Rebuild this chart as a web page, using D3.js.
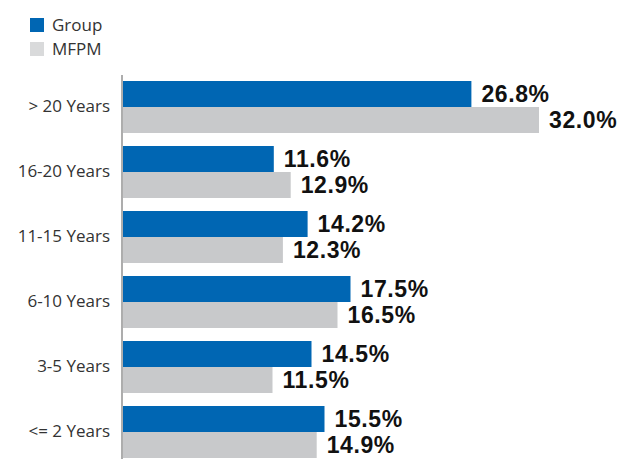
<!DOCTYPE html>
<html><head><meta charset="utf-8">
<script src="https://cdn.jsdelivr.net/npm/d3@7"></script>
<style>body{margin:0;background:#fff}svg{display:block}</style>
</head><body><svg id="c" width="624" height="459"></svg>
<script>
const categories = ["> 20 Years","16-20 Years","11-15 Years","6-10 Years","3-5 Years","<= 2 Years"];
const seriesNames = ["Group","MFPM"];
const groupValues = [26.8, 11.6, 14.2, 17.5, 14.5, 15.5];
const mfpmValues = [32.0, 12.9, 12.3, 16.5, 11.5, 14.9];
const colors = ["#0066b3", "#c8c9cb"];
const legendColors = ["#0066b3", "#d9dadb"];

const svg = d3.select("#c");
const font = "'Open Sans', sans-serif";
const valFont = "'Liberation Sans', Arial, sans-serif";

const x = d3.scaleLinear().domain([0, 32]).range([123, 539]);
const y = d3.scaleBand().domain(categories).range([74.5, 464.5]).paddingInner(0.2).paddingOuter(0.1);
const ys = d3.scaleBand().domain(seriesNames).range([0, y.bandwidth()]);

const data = categories.map((c, i) => ({cat: c, vals: [groupValues[i], mfpmValues[i]]}));

const g = svg.selectAll("g.cat").data(data).join("g")
  .attr("transform", d => `translate(0,${y(d.cat)})`);

g.selectAll("rect").data(d => d.vals.map((v, j) => ({v, s: seriesNames[j], j}))).join("rect")
  .attr("x", x(0)).attr("y", d => ys(d.s))
  .attr("width", d => x(d.v) - x(0)).attr("height", ys.bandwidth())
  .attr("fill", d => colors[d.j]);

g.selectAll("text.val").data(d => d.vals.map((v, j) => ({v, s: seriesNames[j], j}))).join("text")
  .attr("class", "val")
  .attr("x", d => x(d.v) + 10).attr("y", d => ys(d.s) + ys.bandwidth() / 2)
  .attr("dy", "0.36em")
  .attr("font-family", valFont).attr("font-weight", "bold").attr("font-size", 23)
  .attr("letter-spacing", 0.6)
  .attr("fill", "#111")
  .text(d => d.v.toFixed(1) + "%");

// axis
const axis = svg.append("g").attr("transform", `translate(${x(0) - 1},0)`)
  .call(d3.axisLeft(y).tickSize(0).tickPadding(12));
axis.select(".domain").attr("d", "M0,75V459").attr("stroke", "#999").attr("stroke-width", 1.6);
axis.selectAll(".tick text").attr("font-family", font).attr("font-size", 17).attr("fill", "#333");

// legend
const lg = svg.append("g").selectAll("g").data(seriesNames).join("g")
  .attr("transform", (d, i) => `translate(30,${18 + i * 24})`);
lg.append("rect").attr("width", 14).attr("height", 14).attr("fill", (d, i) => legendColors[i]);
lg.append("text").attr("x", 22).attr("y", 7).attr("dy", "0.36em")
  .attr("font-family", font).attr("font-size", 17).attr("fill", "#333").text(d => d);
</script></body></html>
